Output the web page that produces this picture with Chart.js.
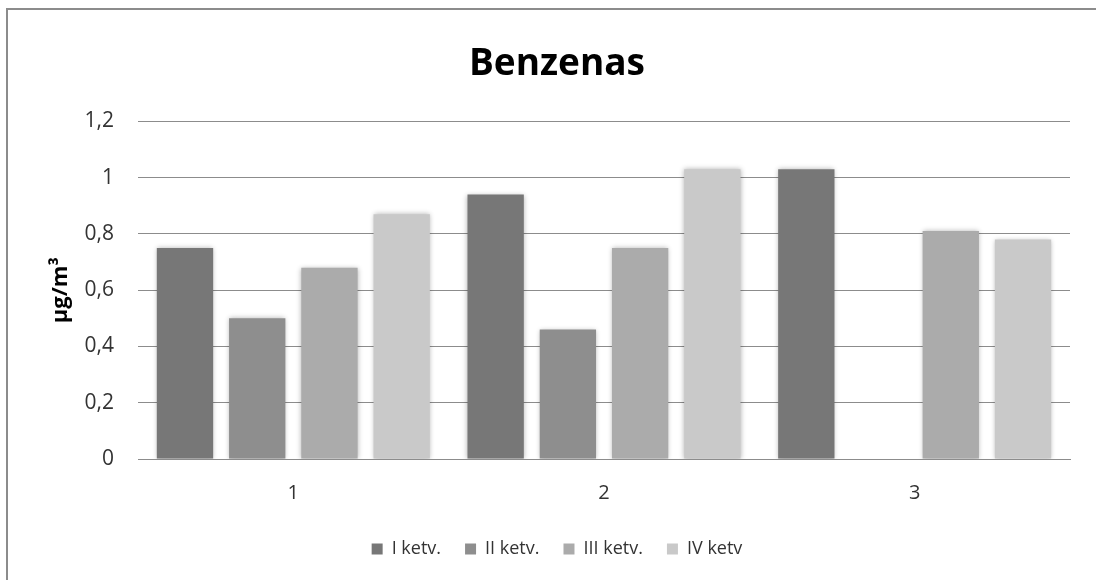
<!DOCTYPE html>
<html>
<head>
<meta charset="utf-8">
<script src="https://cdn.jsdelivr.net/npm/chart.js@4.4.1/dist/chart.umd.min.js"></script>
<style>
  html, body { margin: 0; padding: 0; background: #fff; overflow: hidden; }
</style>
</head>
<body>
<canvas id="chart" width="1096" height="580"></canvas>
<script>
// data
const categories = ['1', '2', '3'];
const seriesNames = ['I ketv.', 'II ketv.', 'III ketv.', 'IV ketv'];
const ketv1 = [0.75, 0.94, 1.03];
const ketv2 = [0.50, 0.46, null];
const ketv3 = [0.68, 0.75, 0.81];
const ketv4 = [0.87, 1.03, 0.78];
const seriesColors = ['#777777', '#8e8e8e', '#ababab', '#c9c9c9'];

const FONT = '"Open Sans", "Noto Sans", sans-serif';

// outer frame: only top and left edges are visible in the original
const frame = {
    id: 'frame',
    beforeDraw(chart) {
        const ctx = chart.ctx;
        ctx.save();
        ctx.strokeStyle = '#8c8c8c';
        ctx.lineWidth = 2;
        ctx.beginPath();
        ctx.moveTo(7, chart.height);
        ctx.lineTo(7, 9);
        ctx.lineTo(chart.width, 9);
        ctx.stroke();
        ctx.restore();
    }
};

// soft shadow around bars
const barShadow = {
    id: 'barShadow',
    beforeDatasetsDraw(chart) {
        const ctx = chart.ctx;
        ctx.save();
        ctx.shadowColor = 'rgba(0,0,0,0.3)';
        ctx.shadowBlur = 5;
    },
    afterDatasetsDraw(chart) {
        chart.ctx.restore();
    }
};

const allSeries = [ketv1, ketv2, ketv3, ketv4];

new Chart(document.getElementById('chart'), {
    type: 'bar',
    data: {
        labels: categories,
        datasets: allSeries.map((vals, i) => ({
            label: seriesNames[i],
            data: vals,
            backgroundColor: seriesColors[i],
            borderWidth: 0,
            barPercentage: 0.78,
            categoryPercentage: 0.93
        }))
    },
    options: {
        responsive: false,
        animation: false,
        layout: { padding: { left: 44, right: 26, top: 0, bottom: 12 } },
        plugins: {
            title: {
                display: true,
                text: 'Benzenas',
                color: '#000',
                font: { family: FONT, size: 37, weight: 'bold' },
                padding: { top: 42, bottom: 35 }
            },
            legend: {
                position: 'bottom',
                labels: {
                    color: '#333',
                    font: { family: FONT, size: 18 },
                    boxWidth: 11,
                    boxHeight: 11,
                    padding: 24
                }
            },
            tooltip: { enabled: false }
        },
        scales: {
            x: {
                grid: { display: false },
                border: { color: '#8c8c8c' },
                ticks: { color: '#333', font: { family: FONT, size: 20 }, padding: 14 },
                afterFit(scale) { scale.height = 57; }
            },
            y: {
                min: 0,
                max: 1.2,
                grid: { color: '#8c8c8c', drawTicks: false },
                border: { display: false },
                ticks: {
                    stepSize: 0.2,
                    color: '#333',
                    font: { family: FONT, size: 21 },
                    padding: 24,
                    callback: v => String(Number(v.toFixed(1))).replace('.', ',')
                },
                title: {
                    display: true,
                    text: 'µg/m³',
                    color: '#000',
                    font: { family: FONT, size: 22, weight: 'bold' }
                },
                afterFit(scale) { scale.width = 94; }
            }
        }
    },
    plugins: [frame, barShadow]
});
</script>
</body>
</html>
